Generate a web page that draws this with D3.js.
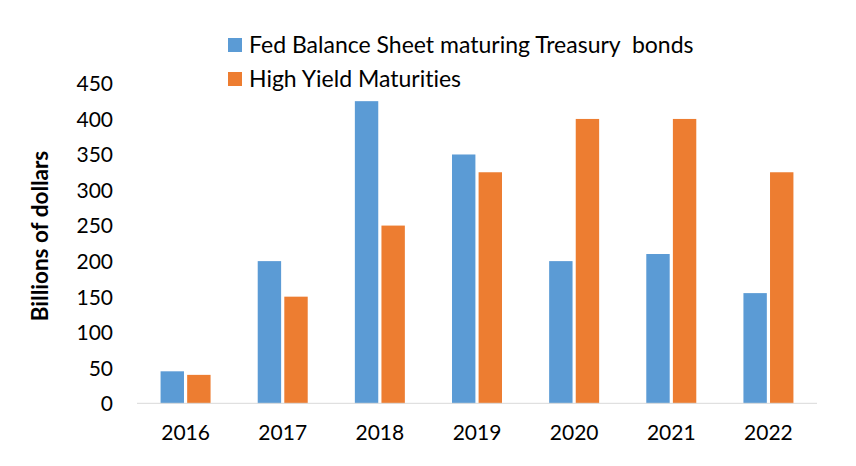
<!DOCTYPE html>
<html>
<head>
<meta charset="utf-8">
<script src="https://cdn.jsdelivr.net/npm/d3@7"></script>
<style>
    body { margin: 0; background: #fff; }
    text { font-family: Lato, "Open Sans", sans-serif; fill: #000; font-variant-ligatures: none; }
</style>
</head>
<body>
<div id="chart"></div>
<script>
const years = ['2016', '2017', '2018', '2019', '2020', '2021', '2022'];
const seriesNames = ['Fed Balance Sheet maturing Treasury  bonds', 'High Yield Maturities'];
const fedValues = [45, 200, 425, 350, 200, 210, 155];
const highYieldValues = [40, 150, 250, 325, 400, 400, 325];
const yTicks = [0, 50, 100, 150, 200, 250, 300, 350, 400, 450];
const colors = ['#5b9bd5', '#ed7d31'];

function drawChart() {
    const width = 856;
    const height = 466;
    const left = 137, right = 817, top = 83.4, bottom = 403.3;

    const svg = d3.select('#chart')
        .append('svg')
        .attr('width', width)
        .attr('height', height);

    const x = d3.scaleBand().domain(years).range([left, right]);
    const inner = d3.scaleBand().domain([0, 1]).range([0, 50]).paddingInner(0.12);
    const y = d3.scaleLinear().domain([0, 450]).range([bottom, top]);

    const rows = years.map((year, i) => ({ year, values: [fedValues[i], highYieldValues[i]] }));

    const groups = svg.append('g')
        .selectAll('g')
        .data(rows)
        .enter()
        .append('g')
        .attr('transform', d => 'translate(' + (x(d.year) + x.bandwidth() / 2 - 25) + ',0)');

    groups.selectAll('rect')
        .data(d => d.values.map((v, s) => ({ v, s })))
        .enter()
        .append('rect')
        .attr('x', d => inner(d.s))
        .attr('width', inner.bandwidth())
        .attr('y', d => y(d.v))
        .attr('height', d => y(0) - y(d.v))
        .style('fill', d => colors[d.s]);

    // baseline
    svg.append('line')
        .attr('x1', left).attr('x2', right)
        .attr('y1', y(0)).attr('y2', y(0))
        .attr('stroke', '#d9d9d9')
        .attr('stroke-width', 1);

    // y axis labels
    const yAxis = svg.append('g')
        .attr('transform', 'translate(113,0)')
        .call(d3.axisLeft(y).tickValues(yTicks).tickSize(0).tickPadding(0));
    yAxis.select('.domain').remove();
    yAxis.selectAll('text').style('font-size', '21px').attr('dy', '0.35em');

    // x axis labels
    const xAxis = svg.append('g')
        .attr('transform', 'translate(0,' + y(0) + ')')
        .call(d3.axisBottom(x).tickSize(0).tickPadding(22));
    xAxis.select('.domain').remove();
    xAxis.selectAll('text').style('font-size', '21px');

    svg.append('text')
        .attr('transform', 'translate(48,236) rotate(-90)')
        .attr('text-anchor', 'middle')
        .style('font-size', '22.5px')
        .style('font-weight', 'bold')
        .text('Billions of dollars');

    // legend
    const legend = svg.append('g')
        .selectAll('g')
        .data(seriesNames)
        .enter()
        .append('g')
        .attr('transform', (d, i) => 'translate(228,' + (38 + i * 34) + ')');
    legend.append('rect')
        .attr('width', 14).attr('height', 14)
        .style('fill', (d, i) => colors[i]);
    legend.append('text')
        .attr('x', 21).attr('y', 7).attr('dy', '0.35em')
        .style('font-size', '23px')
        .style('white-space', 'pre')
        .text(d => d);
}

drawChart();
</script>
</body>
</html>
